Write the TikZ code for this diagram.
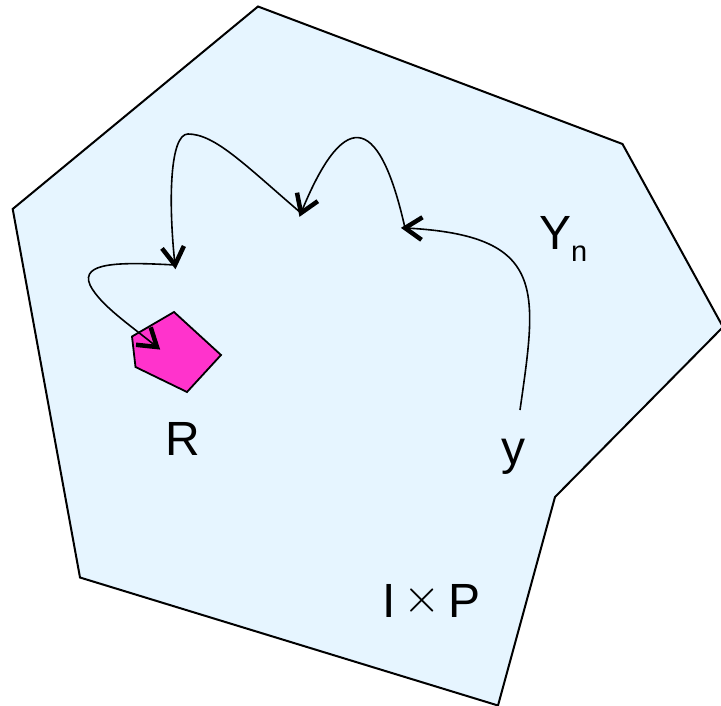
\documentclass[tikz,border=0pt]{standalone}
\usepackage{fontspec}
\setmainfont{Liberation Sans}
\definecolor{regionfill}{HTML}{E6F5FF}
\definecolor{targetfill}{HTML}{FF33CC}
\tikzset{
  region/.style={draw=black, line width=2pt, fill=regionfill, line join=miter},
  target/.style={draw=black, line width=1.8pt, fill=targetfill},
  jump/.style={draw=black, line width=1.6pt},
  barb/.style={draw=black, line width=4.5pt, line join=miter, line cap=butt},
  lbl/.style={font=\fontsize{48}{50}\selectfont, inner sep=0pt},
}
\newcommand{\bigtimes}{{\fontsize{10}{12}\selectfont\raisebox{5pt}{\scalebox{4.8}{$\times$}}}}
\begin{document}
\begin{tikzpicture}[x=1pt,y=-1pt]
\useasboundingbox (0,0) rectangle (721,706);
\begin{scope}
\clip (0,0) rectangle (721,706);
\draw[region] (258,6.5) -- (622.5,144) -- (723,327) -- (555,497) -- (498,705.5) -- (80,577.5) -- (12.7,209) -- cycle;
\end{scope}
\draw[target] (132,336.5) -- (174,312) -- (221,355) -- (187,392) -- (135.5,367) -- cycle;

\coordinate (p0) at (520,410);
\coordinate (p1) at (405,228);
\coordinate (p2) at (301,213);
\coordinate (p3) at (175,265);
\coordinate (p4) at (157,347);

\draw[jump] (p0) .. controls (537,290) and (548,235) .. (p1);
\draw[jump] (p1) .. controls (378,108) and (342,112) .. (p2);
\draw[jump] (p2) .. controls (245,165) and (215,134) .. (188,134) .. controls (170,134) and (168,200) .. (p3);
\draw[jump] (p3) .. controls (120,262) and (80,262) .. (90,285) .. controls (100,305) and (130,325) .. (p4);

% arrow barbs at the ends
\draw[barb] (422.5,217.3) -- (p1) -- (421.5,239.8);
\draw[barb] (317.8,201.2) -- (p2) -- (297.0,192.7);
\draw[barb] (183.9,246.0) -- (p3) -- (162.0,248.4);
\draw[barb] (150.7,327.3) -- (p4) -- (136.0,344.8);

\node[lbl, anchor=base] (R) at (183,455) {R};
\node[lbl, anchor=base] (y) at (513,464) {y};
\node[lbl, anchor=base west] (Y) at (539,250) {Y{\fontsize{29}{30}\selectfont\raisebox{-12pt}{n}}};
\node[lbl, anchor=base west] (IP) at (382.5,617) {I\hspace{7pt}\bigtimes\hspace{8pt}P};
\end{tikzpicture}
\end{document}
